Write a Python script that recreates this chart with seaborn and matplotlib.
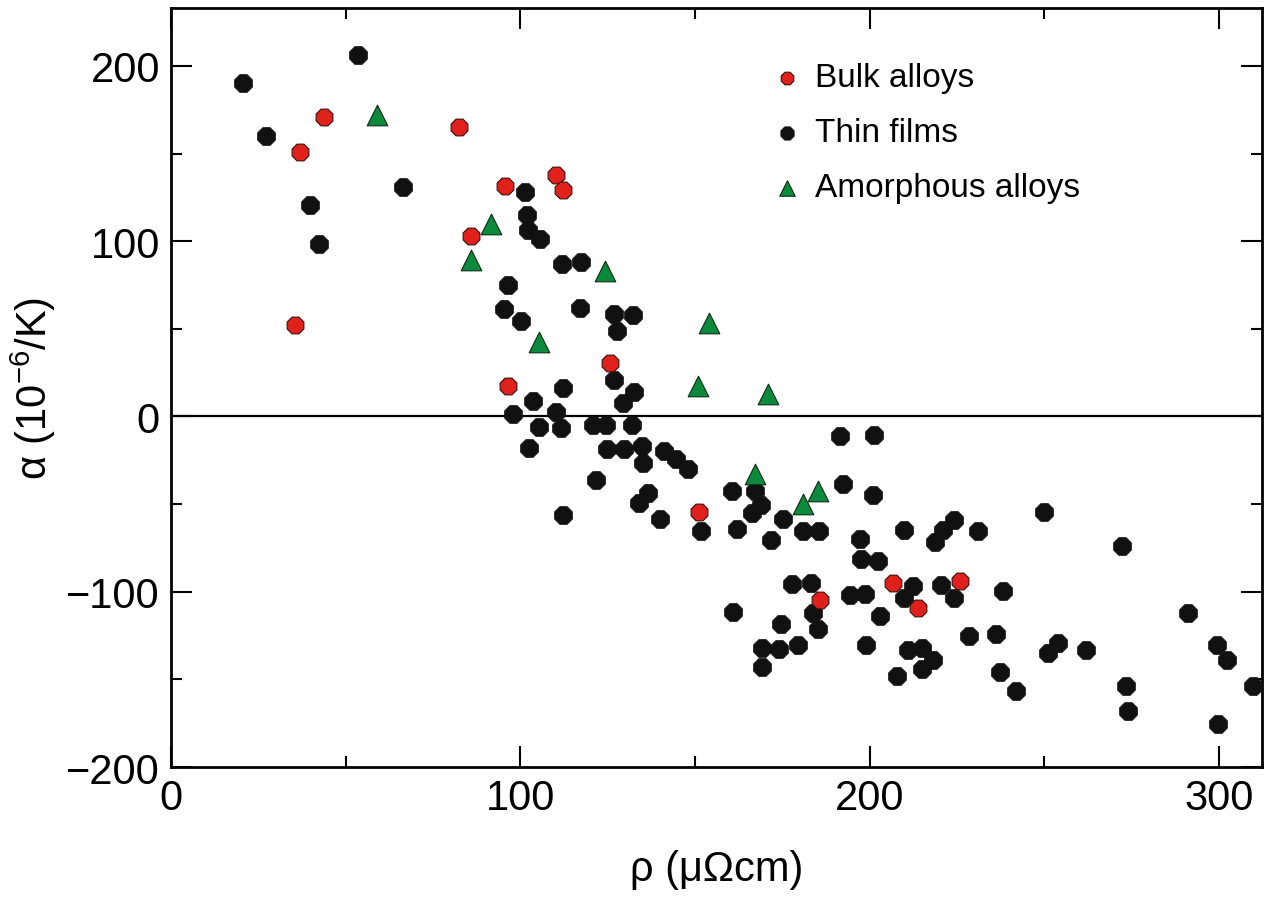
import numpy as np
import pandas as pd
import seaborn as sns
import matplotlib.pyplot as plt

# resistivity rho (uOhm cm) and TCR alpha (1e-6/K)
bulk_rho = [43.8, 36.9, 82.4, 95.5, 110.2, 112.1, 86.0, 35.5, 96.6, 125.7,
            151.2, 185.8, 206.8, 213.7, 225.9]
bulk_alpha = [171, 151, 165, 131.5, 137.6, 129.3, 103, 52, 17.4, 30.6,
              -54.7, -104.6, -95.2, -109.3, -93.7]

film_rho = [20.5, 53.4, 27.3, 66.3, 39.9, 42.5, 101.3, 102.0, 102.3, 105.6,
            112.0, 117.5, 96.4, 95.3, 100.3, 117.1, 126.8, 132.2, 127.6, 126.8,
            132.5, 129.5, 112.3, 103.7, 97.8, 110.2, 105.4, 111.6, 120.8, 124.5,
            131.9, 102.6, 124.7, 129.8, 134.7, 135.2, 141.1, 144.6, 147.9, 121.7,
            136.6, 134.0, 140.0, 112.3, 151.7, 160.6, 167.2, 168.8, 166.4, 162.0,
            171.7, 175.3, 181.0, 185.5, 191.5, 201.3, 192.3, 200.9, 177.7, 183.2,
            183.7, 185.1, 174.6, 161.0, 179.6, 169.3, 173.9, 169.3, 197.3, 209.7,
            224.0, 221.1, 218.7, 230.9, 249.8, 272.2, 197.5, 202.3, 194.4, 198.7,
            203.0, 212.5, 209.7, 220.4, 224.2, 238.3, 199.0, 210.9, 215.1, 218.1,
            214.9, 207.8, 228.3, 236.1, 237.3, 241.9, 251.0, 254.0, 261.9, 273.4,
            273.9, 291.2, 299.4, 302.4, 309.7, 299.8]
film_alpha = [190, 206, 160, 131, 120.4, 98.6, 128, 114.8, 106.3, 101,
              87.1, 88, 75.2, 61.1, 54.5, 62, 58.3, 57.7, 48.9, 21,
              14, 7.4, 16.3, 9, 1.2, 2.7, -5.8, -6.7, -4.8, -4.8,
              -4.8, -18, -18.4, -18.4, -17, -26.5, -19.9, -24, -30.2, -36.4,
              -43.8, -49.4, -58.5, -56.2, -65.6, -42.5, -42.5, -50.6, -55.1, -64.1,
              -70.3, -58.5, -65.1, -65.1, -11.4, -10.5, -38.3, -44.7, -95.8, -95.2,
              -112.1, -121, -118.2, -111.6, -130.4, -132.3, -132.9, -142.7, -69.8, -64.7,
              -59, -64.7, -71.6, -65.1, -54.7, -74.1, -81.5, -82.4, -101.8, -101.2,
              -114, -96.7, -103.7, -96.2, -103.7, -99.5, -130.4, -133.4, -131.9, -138.9,
              -144.2, -148.3, -125, -124, -146, -156.8, -134.7, -129.1, -133.2, -153.6,
              -168.2, -112.1, -130.4, -139.1, -153.6, -175.3]

amor_rho = [59.0, 91.5, 86.0, 124.3, 153.9, 105.4, 150.8, 171.0, 167.3, 185.3, 180.8]
amor_alpha = [172, 109.7, 89, 83.2, 53.4, 42.3, 17.4, 12.7, -32.9, -42.3, -50]

bulk = pd.DataFrame({'rho': bulk_rho, 'alpha': bulk_alpha})
films = pd.DataFrame({'rho': film_rho, 'alpha': film_alpha})
amor = pd.DataFrame({'rho': amor_rho, 'alpha': amor_alpha})

sns.set_style('ticks')
plt.rcParams['font.family'] = ['Liberation Sans', 'DejaVu Sans']
plt.rcParams['mathtext.fontset'] = 'custom'
plt.rcParams['mathtext.rm'] = 'Liberation Sans'
plt.rcParams['mathtext.default'] = 'regular'
plt.rcParams['text.color'] = 'black'
plt.rcParams['axes.labelcolor'] = 'black'
plt.rcParams['xtick.color'] = 'black'
plt.rcParams['ytick.color'] = 'black'
plt.rcParams['axes.edgecolor'] = 'black'

fig = plt.figure(figsize=(12.64, 9.03), dpi=100)
ax = fig.add_axes([0.1353, 0.1495, 0.8631, 0.8405])

ax.axhline(0, color='black', lw=1.6, zorder=1)

sns.scatterplot(data=films, x='rho', y='alpha', marker='8', color='#111111',
                edgecolor='#111111', linewidth=0.6, s=190, label='Thin films', ax=ax, zorder=3)
sns.scatterplot(data=bulk, x='rho', y='alpha', marker='8', color='#e0201b',
                edgecolor='#3a1010', linewidth=0.8, s=170, label='Bulk alloys', ax=ax, zorder=4)
sns.scatterplot(data=amor, x='rho', y='alpha', marker='^', color='#0b8a3c',
                edgecolor='#0a2a14', linewidth=0.8, s=220, label='Amorphous alloys', ax=ax, zorder=5)

ax.set_xlim(0, 312.3)
ax.set_ylim(-196, 233)
ax.set_xticks([0, 100, 200, 300])
ax.set_xticks([50, 150, 250], minor=True)
ax.set_yticks([-200, -100, 0, 100, 200])
ax.set_yticks([-150, -50, 50, 150], minor=True)
ax.tick_params(which='both', direction='in', top=True, right=True,
               width=1.5, labelsize=30, pad=8)
ax.tick_params(which='major', length=15)
ax.tick_params(which='minor', length=8)
for sp in ax.spines.values():
    sp.set_linewidth(2)

ax.set_xlabel('ρ (μΩcm)', fontsize=30, labelpad=22)
ax.set_ylabel('α (10$^{-6}$/K)', fontsize=30, labelpad=6)

h, l = ax.get_legend_handles_labels()
order = [l.index('Bulk alloys'), l.index('Thin films'), l.index('Amorphous alloys')]
ax.legend([h[i] for i in order], [l[i] for i in order], loc='upper left',
          bbox_to_anchor=(0.522, 0.968), frameon=False, fontsize=24,
          markerscale=0.75, handletextpad=0.35, labelspacing=0.72, handlelength=1.0)

fig.savefig('out.png', dpi=100)
